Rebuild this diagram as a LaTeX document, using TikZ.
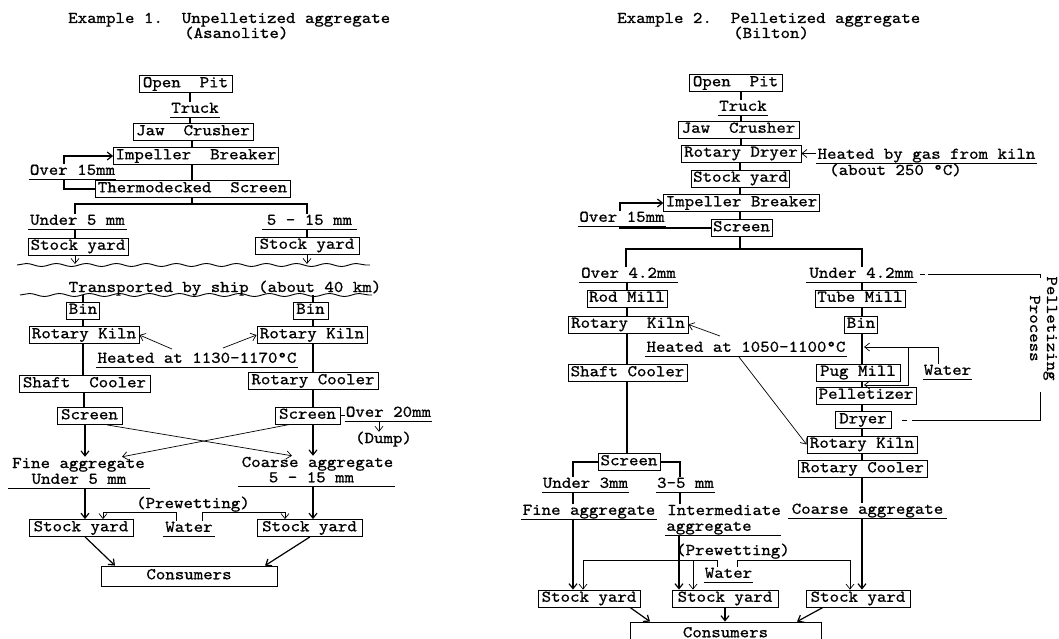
\documentclass[tikz,border=0pt]{standalone}
\usepackage{fontspec}
\newfontfamily\tw{lmmono10-regular.otf}[FakeStretch=1.1,FakeBold=0.8]
\usetikzlibrary{arrows.meta,decorations.pathmorphing}
\begin{document}
\begin{tikzpicture}[x=1pt,y=-1pt,
  every node/.style={font=\tw\fontsize{16.4pt}{15pt}\selectfont},
  box/.style={draw, line width=0.8pt, inner xsep=2pt, inner ysep=0pt, minimum height=17pt, text height=10pt, text depth=3.5pt},
  lbl/.style={inner xsep=1pt, inner ysep=1pt, text height=10pt, text depth=3pt},
  ul/.style={lbl, append after command={(\tikzlastnode.south west) edge[line width=0.8pt] (\tikzlastnode.south east)}},
  flow/.style={line width=1.2pt},
  thin/.style={line width=0.7pt},
  arr/.style={-{Straight Barb[length=5pt,width=8pt]}},
  wave/.style={line width=0.9pt, decorate, decoration={snake, amplitude=1.5pt, segment length=30pt}},
]
\useasboundingbox[fill=white] (0,0) rectangle (1059,639);

% ================= Example 1 =================
\node[lbl, anchor=base west] (t1) at (67,23) {Example 1.~~Unpelletized aggregate};
\node[lbl, anchor=base west] (t1b) at (183,38) {(Asanolite)};
\node[box, minimum width=93] (op1) at (185.5,84) {Open~~Pit};
\node[ul, anchor=south, minimum width=50] (tr1) at (195,117) {Truck};
\node[box, minimum width=120] (jc1) at (193,132) {Jaw~~Crusher};
\node[box, minimum width=164] (ib1) at (196,156) {Impeller~~Breaker};
\node[ul, anchor=south, minimum width=85] (ov1) at (72.5,179) {Over 15mm};
\node[box, minimum width=195] (ts1) at (192.5,189) {Thermodecked~~Screen};
\node[ul, anchor=south, minimum width=99] (u5) at (77.5,229) {Under 5 mm};
\node[ul, anchor=south, minimum width=95] (m515) at (309.5,229) {5 - 15 mm};
\node[box, minimum width=100] (sya) at (78,246.5) {Stock yard};
\node[box, minimum width=104] (syb) at (307,245.5) {Stock yard};
\node[lbl, anchor=base] (ship) at (225,292) {Transported by ship (about 40 km)};
\node[box, minimum width=32] (bina) at (83,310.5) {Bin};
\node[box, minimum width=35] (binb) at (310.5,310.5) {Bin};
\node[box, minimum width=110] (rka) at (84,335) {Rotary Kiln};
\node[box, minimum width=110] (rkb) at (312,335) {Rotary Kiln};
\node[ul, anchor=south, minimum width=200] (heat1) at (197,367) {Heated at 1130-1170°C};
\node[box, minimum width=131] (sca) at (84.5,384) {Shaft~~Cooler};
\node[box, minimum width=130] (rcb) at (313,381) {Rotary Cooler};
\node[box, minimum width=65] (scra) at (89.5,416) {Screen};
\node[box, minimum width=65] (scrb) at (307.5,415.5) {Screen};
\node[ul, anchor=south, minimum width=87] (ov20) at (388.5,421) {Over 20mm};
\node[lbl, anchor=base] (dump) at (383.5,443) {(Dump)};
\node[lbl, anchor=base] (fa1) at (78.5,468) {Fine aggregate};
\node[ul, anchor=south, minimum width=142] (fa2) at (79,488) {Under 5 mm};
\node[lbl, anchor=base] (ca1) at (317.5,467) {Coarse aggregate};
\node[ul, anchor=south, minimum width=157] (ca2) at (316.5,486.5) {5 - 15 mm\hspace*{10pt}};
\node[lbl, anchor=base] (pw1) at (193,508) {(Prewetting)};
\node[ul, anchor=south, minimum width=52] (wat1) at (189,536) {Water};
\node[box, minimum width=104] (sA) at (81,528) {Stock yard};
\node[box, minimum width=105] (sB) at (309.5,528) {Stock yard};
\node[box, minimum width=176, minimum height=20] (con1) at (189,576) {Consumers};

\draw[flow] (190,0 |- op1.south) -- (190,0 |- tr1.north);
\draw[flow] (190,0 |- tr1.south) -- (190,0 |- jc1.north);
\draw[flow] (192,0 |- jc1.south) -- (192,0 |- ib1.north);
\draw[flow] (192,0 |- ib1.south) -- (192,0 |- ts1.north);
\draw[flow] (ts1.west) -- (64,0 |- ts1.west) -- (64,0 |- ov1.south);
\draw[flow, arr] (64,0 |- ov1.north) -- (64,0 |- ib1.west) -- (ib1.west);
\coordinate (j1) at (192,204);
\draw[flow] (192,0 |- ts1.south) -- (j1);
\draw[flow] (75,0 |- u5.north) -- (75,0 |- j1) -- (307,0 |- j1) -- (307,0 |- m515.north);
\draw[flow] (75,0 |- u5.south) -- (75,0 |- sya.north);
\draw[flow] (307,0 |- m515.south) -- (307,0 |- syb.north);
\draw[wave] (17,265) -- (370,265);
\coordinate (w1a) at (75,264);
\coordinate (w1b) at (307,264);
\draw[thin, arr] (75,0 |- sya.south) -- (w1a);
\draw[thin, arr] (307,0 |- syb.south) -- (w1b);
\draw[wave] (20,295) -- (372,295);
\coordinate (w2a) at (83,295);
\coordinate (w2b) at (313,295);
\draw[flow] (w2a) -- (83,0 |- bina.north);
\draw[flow] (w2b) -- (313,0 |- binb.north);
\draw[flow] (83,0 |- bina.south) -- (83,0 |- rka.north);
\draw[flow] (83,0 |- rka.south) -- (83,0 |- sca.north);
\draw[flow] (84,0 |- sca.south) -- (84,0 |- scra.north);
\draw[flow] (313,0 |- binb.south) -- (313,0 |- rkb.north);
\draw[flow] (313,0 |- rkb.south) -- (313,0 |- rcb.north);
\draw[flow] (313,0 |- rcb.south) -- (313,0 |- scrb.north);
\coordinate (h1a) at (172,349);
\coordinate (h1b) at (223,348);
\draw[thin, arr] (h1a) -- (rka.east);
\draw[thin, arr] (h1b) -- (rkb.west);
\draw[thin] (scrb.east) -- (ov20.west |- scrb.east);
\draw[thin, arr] (379,0 |- ov20.south) -- (379,0 |- dump.north);
\draw[flow, arr] (85,0 |- scra.south) -- (85,0 |- fa1.north);
\draw[flow, arr] (313,0 |- scrb.south) -- (313,0 |- ca1.north);
\draw[thin, arr] (107,0 |- scra.south) -- (292,0 |- ca1.north);
\draw[thin, arr] (290,0 |- scrb.south) -- (122,0 |- fa1.north);
\draw[flow, arr] (85,0 |- fa2.south) -- (85,0 |- sA.north);
\draw[flow, arr] (313,0 |- ca2.south) -- (313,0 |- sB.north);
\draw[thin, arr] (176,0 |- wat1.north) -- (176,512) -- (103,512) -- (103,0 |- sA.north);
\draw[thin, arr] (202,0 |- wat1.north) -- (202,512) -- (285,512) -- (285,0 |- sB.north);
\draw[flow, arr] (85,0 |- sA.south) -- (115,0 |- con1.north);
\draw[flow, arr] (310,0 |- sB.south) -- (265,0 |- con1.north);

% ================= Example 2 =================
\node[lbl, anchor=base west] (t2) at (616,23) {Example 2.~~Pelletized aggregate};
\node[lbl, anchor=base west] (t2b) at (732,38) {(Bilton)};
\node[box, minimum width=93] (op2) at (735.5,83) {Open~~Pit};
\node[ul, anchor=south, minimum width=50] (tr2) at (743,115) {Truck};
\node[box, minimum width=121] (jc2) at (738.5,129.5) {Jaw~~Crusher};
\node[box, minimum width=120] (rd2) at (741,153.5) {Rotary Dryer};
\node[ul, anchor=south, minimum width=217] (gas) at (926.5,163) {Heated by gas from kiln};
\node[lbl, anchor=base west] (abt) at (828,175) {(about 250 °C)};
\node[box, minimum width=97] (sy2) at (740.5,178.5) {Stock yard};
\node[box, minimum width=155] (ib2) at (741.5,203) {Impeller Breaker};
\node[ul, anchor=south, minimum width=86] (ov2) at (622,226) {Over 15mm};
\node[box, minimum width=59] (scr2) at (741.5,228) {Screen};
\node[ul, anchor=south, minimum width=99] (o42) at (628.5,282) {Over 4.2mm};
\node[ul, anchor=south, minimum width=111] (u42) at (861.5,282) {Under 4.2mm};
\node[box, minimum width=80] (rod) at (627,298.5) {Rod Mill};
\node[box, minimum width=90] (tube) at (860,298.5) {Tube Mill};
\node[box, minimum width=120] (rk2a) at (628,324.5) {Rotary~~Kiln};
\node[box, minimum width=32] (bin2) at (861,324.5) {Bin};
\node[ul, anchor=south, minimum width=202] (heat2) at (746,356) {Heated at 1050-1100°C};
\node[box, minimum width=119] (sh2) at (627.5,373) {Shaft Cooler};
\node[box, minimum width=84] (pug) at (858,372.5) {Pug Mill};
\node[ul, anchor=south, minimum width=49] (wat2) at (947.5,379) {Water};
\node[box, minimum width=100] (pel) at (866,395.5) {Pelletizer};
\node[box, minimum width=56] (dry) at (863,420) {Dryer};
\node[box, minimum width=110] (rk2b) at (862,444.5) {Rotary Kiln};
\node[box, minimum width=62] (scr3) at (629,462) {Screen};
\node[box, minimum width=129] (rc2) at (862.5,469) {Rotary Cooler};
\node[ul, anchor=south, minimum width=85] (u3) at (585.5,492) {Under 3mm};
\node[ul, anchor=south, minimum width=55] (m35) at (685.5,492) {3-5 mm};
\node[ul, anchor=south, minimum width=136] (fag) at (589,519) {Fine aggregate};
\node[lbl, anchor=base west] (ia1) at (666,515) {Intermediate};
\node[ul, anchor=south] (ia2) at (723,535) {aggregate\hspace*{28pt}};
\node[ul, anchor=south, minimum width=159] (cag) at (867.5,518) {Coarse aggregate};
\node[lbl, anchor=base] (pw2) at (733,555) {(Prewetting)};
\node[ul, anchor=south, minimum width=49] (wat3) at (728.5,582) {Water};
\node[box, minimum width=102] (s1) at (589,598.5) {Stock yard};
\node[box, minimum width=106] (s2) at (725,598.5) {Stock yard};
\node[box, minimum width=104] (s3) at (858,598.5) {Stock yard};
\node[box, minimum width=191, minimum height=24] (con2) at (725.5,634) {Consumers};
\node[rotate=-90, align=center, inner sep=0pt, font=\tw\fontsize{16.4pt}{17pt}\selectfont] (pp) at (1043.5,328.5) {Pelletizing\\Process};

\draw[flow] (741,0 |- op2.south) -- (741,0 |- tr2.north);
\draw[flow] (741,0 |- tr2.south) -- (741,0 |- jc2.north);
\draw[flow] (741,0 |- jc2.south) -- (741,0 |- rd2.north);
\draw[thin, arr] (gas.west |- rd2.east) -- (rd2.east);
\draw[flow] (740,0 |- rd2.south) -- (740,0 |- sy2.north);
\draw[flow] (740,0 |- sy2.south) -- (740,0 |- ib2.north);
\draw[flow] (740,0 |- ib2.south) -- (740,0 |- scr2.north);
\draw[flow] (scr2.west) -- (620,0 |- scr2.west) -- (620,0 |- ov2.south);
\draw[flow, arr] (620,0 |- ov2.north) -- (620,0 |- ib2.west) -- (ib2.west);
\coordinate (j2) at (740,249);
\draw[flow] (740,0 |- scr2.south) -- (j2);
\draw[flow] (626,0 |- o42.north) -- (626,0 |- j2) -- (862,0 |- j2) -- (862,0 |- u42.north);
\draw[flow] (627,0 |- o42.south) -- (627,0 |- rod.north);
\draw[flow] (627,0 |- rod.south) -- (627,0 |- rk2a.north);
\draw[flow] (627,0 |- rk2a.south) -- (627,0 |- sh2.north);
\draw[flow] (627,0 |- sh2.south) -- (627,0 |- scr3.north);
\draw[flow] (862,0 |- u42.south) -- (862,0 |- tube.north);
\draw[flow] (862,0 |- tube.south) -- (862,0 |- bin2.north);
\draw[flow] (862,0 |- bin2.south) -- (862,0 |- pug.north);
\draw[flow] (862,0 |- pug.south) -- (862,0 |- pel.north);
\draw[flow] (862,0 |- pel.south) -- (862,0 |- dry.north);
\draw[flow] (862,0 |- dry.south) -- (862,0 |- rk2b.north);
\draw[flow] (862,0 |- rk2b.south) -- (862,0 |- rc2.north);
\draw[flow] (862,0 |- rc2.south) -- (862,0 |- cag.north);
\draw[flow, arr] (862,0 |- cag.south) -- (862,0 |- s3.north);
\coordinate (wi1) at (864,347);
\coordinate (wi2) at (864,385);
\coordinate (wj) at (908,347);
\draw[thin, arr] (938,0 |- wat2.north) -- (938,0 |- wi1) -- (wi1);
\draw[thin, arr] (wj) -- (908,0 |- wi2) -- (wi2);
\coordinate (h2a) at (720,336);
\coordinate (h2b) at (739,357);
\draw[thin, arr] (h2a) -- (rk2a.east);
\draw[thin, arr] (h2b) -- (rk2b.west);
\draw[thin, dash pattern=on 5pt off 3pt on 400pt off 0pt] ([xshift=3pt]u42.east) -- (1040,0 |- u42.east) -- (1040,278);
\draw[thin, dash pattern=on 0pt off 11pt on 5pt off 5pt on 400pt off 0pt] (dry.east) -- (1040,0 |- dry.east) -- (1040,392);
\draw[flow] (scr3.west) -- (573,0 |- scr3.west) -- (573,0 |- u3.north);
\draw[flow] (scr3.east) -- (680,0 |- scr3.east) -- (680,0 |- m35.north);
\draw[flow] (573,0 |- u3.south) -- (573,0 |- fag.north);
\draw[flow] (680,0 |- m35.south) -- (680,0 |- ia1.north);
\draw[flow, arr] (573,0 |- fag.south) -- (573,0 |- s1.north);
\draw[flow, arr] (679,0 |- ia2.south) -- (679,0 |- s2.north);
\coordinate (pj) at (693,560);
\draw[thin, arr] (717,0 |- wat3.north) -- (717,0 |- pj) -- (583,0 |- pj) -- (583,0 |- s1.north);
\draw[thin, arr] (pj) -- (693,0 |- s2.north);
\draw[thin, arr] (737,0 |- wat3.north) -- (737,0 |- pj) -- (850,0 |- pj) -- (850,0 |- s3.north);
\draw[flow, arr] (630,0 |- s1.south) -- (650,0 |- con2.north);
\draw[flow, arr] (725,0 |- s2.south) -- (725,0 |- con2.north);
\draw[flow, arr] (823,0 |- s3.south) -- (797,0 |- con2.north);
\end{tikzpicture}
\end{document}
